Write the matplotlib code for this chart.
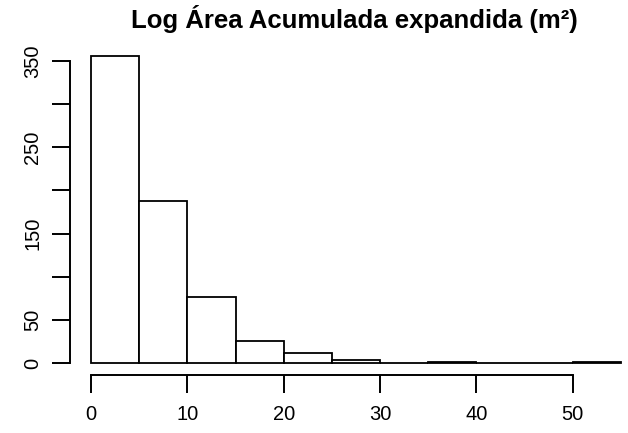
import matplotlib
matplotlib.use("Agg")
import matplotlib.pyplot as plt

plt.rcParams['font.family'] = ['Liberation Sans', 'DejaVu Sans']

bin_edges = [0, 5, 10, 15, 20, 25, 30, 35, 40, 45, 50, 55]
counts = [356, 188, 77, 26, 12, 3, 0, 1, 0, 0, 1]
x_ticks = [0, 10, 20, 30, 40, 50]
y_ticks = [0, 50, 100, 150, 200, 250, 300, 350]
y_labels = ['0', '50', '', '150', '', '250', '', '350']
title = 'Log Área Acumulada expandida (m²)'

fig = plt.figure(figsize=(6.28, 4.33), dpi=100)
ax = fig.add_axes([70/628, 1-375.3/433, (642-70)/628, (375.3-43.5)/433])

lefts = bin_edges[:-1]
widths = [b - a for a, b in zip(bin_edges[:-1], bin_edges[1:])]
ax.bar(lefts, counts, width=widths, align='edge', facecolor='white',
       edgecolor='black', linewidth=1.3)

xmin, xmax = bin_edges[0], bin_edges[-1]
ymax = max(counts)
ax.set_xlim(xmin - 0.04*(xmax-xmin), xmax + 0.04*(xmax-xmin))
ax.set_ylim(-0.04*ymax, ymax*1.04)

for s in ['top', 'right']:
    ax.spines[s].set_visible(False)
ax.spines['left'].set_bounds(0, 350)
ax.spines['bottom'].set_bounds(0, 50)
for s in ['left', 'bottom']:
    ax.spines[s].set_linewidth(1.4)

ax.set_xticks(x_ticks)
ax.set_xticklabels([str(v) for v in x_ticks])
ax.set_yticks(y_ticks)
ax.set_yticklabels(y_labels, rotation=90, va='center')
ax.tick_params(axis='both', direction='out', length=13, width=1.4,
               labelsize=14.5)
ax.tick_params(axis='x', pad=8.5)
ax.tick_params(axis='y', pad=7)

fig.text(354/628, 1-19/433, title, ha='center', va='center',
         fontsize=18.5, fontweight='bold')

fig.savefig('out.png', dpi=100)
